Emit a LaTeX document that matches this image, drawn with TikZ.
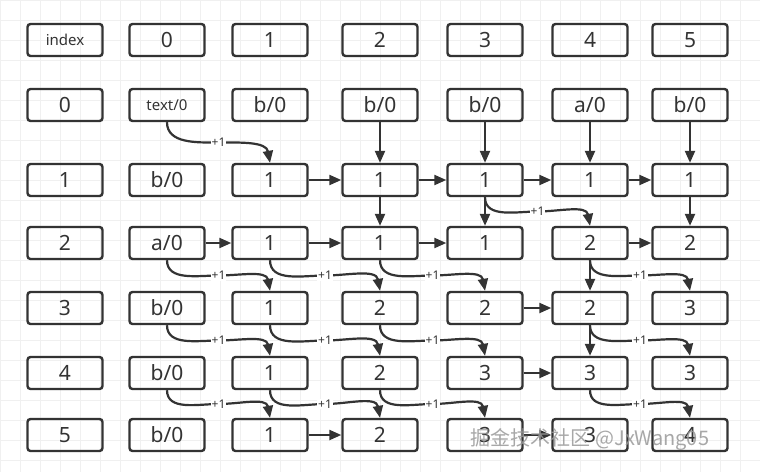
\documentclass[tikz,border=0pt]{standalone}
\usepackage{fontspec}
\setmainfont{Noto Sans}
\newfontfamily\cjk{Noto Sans CJK SC}
\usetikzlibrary{arrows.meta}
\definecolor{ink}{HTML}{333333}
\newcommand\smalltxt[1]{{\fontsize{15}{15}\selectfont #1}}
\tikzset{
  cell/.style={draw=ink,line width=2.4pt,rounded corners=3pt,minimum width=75pt,minimum height=32pt,inner sep=0pt,font=\fontsize{21}{21}\selectfont,text=ink},
  link/.style={draw=ink,line width=2.2pt,-{Triangle[length=12pt,width=10pt]}},
  plus/.style={fill=white,inner sep=1pt,font=\fontsize{12}{12}\selectfont,text=ink},
}
\begin{document}
\begin{tikzpicture}[x=1pt,y=-1pt]
\useasboundingbox (0,0) rectangle (760,472);
\fill[white] (0,0) rectangle (760,472);
\draw[black!6,line width=0.5pt] (0,0) grid[step=20pt] (760,472);
\def\xs{{65,167,270,380,485,590,690}}
\def\ys{{40,105,180,243,308,373,435}}
\foreach \r/\row in {0/{\smalltxt{index},0,1,2,3,4,5},1/{0,\smalltxt{text/0},b/0,b/0,b/0,a/0,b/0},2/{1,b/0,1,1,1,1,1},3/{2,a/0,1,1,1,2,2},4/{3,b/0,1,2,2,2,3},5/{4,b/0,1,2,3,3,3},6/{5,b/0,1,2,3,3,4}}{
  \foreach \t [count=\c from 0] in \row {
    \pgfmathsetmacro\xx{\xs[\c]}\pgfmathsetmacro\yy{\ys[\r]}
    \node[cell] (n-\r-\c) at (\xx,\yy) {\t};
  }
}
% horizontal
\foreach \a/\b in {2-2/2-3,2-3/2-4,2-4/2-5,2-5/2-6,3-1/3-2,3-2/3-3,3-3/3-4,3-5/3-6,4-4/4-5,5-4/5-5,6-2/6-3,6-4/6-5}
  \draw[link] (n-\a) -- (n-\b);
% vertical
\foreach \a/\b in {1-3/2-3,1-4/2-4,1-5/2-5,1-6/2-6,2-3/3-3,2-4/3-4,2-6/3-6,3-5/4-5,4-5/5-5}
  \draw[link] (n-\a) -- (n-\b);
% diagonal +1
\foreach \r/\c in {1/1,2/4,3/1,3/2,3/3,3/5,4/1,4/2,4/3,4/5,5/1,5/2,5/3,5/5}{
  \pgfmathtruncatemacro\rr{\r+1}\pgfmathtruncatemacro\cc{\c+1}
  \path (n-\r-\c.south) -- (n-\rr-\cc.north) coordinate[pos=0.5] (m-\r-\c);
  \draw[link] (n-\r-\c.south) to[out=-90,in=180] (m-\r-\c) to[out=0,in=100] (n-\rr-\cc.north);
  \node[plus] at (m-\r-\c) {+1};
}
\node[text=black!40,font=\cjk\fontsize{20}{20}\selectfont,opacity=0.85] (wm) at (590,440) {掘金技术社区 @JxWang05};
\end{tikzpicture}
\end{document}
